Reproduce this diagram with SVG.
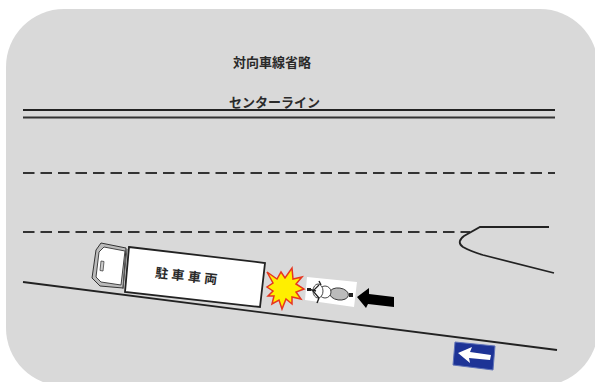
<svg xmlns="http://www.w3.org/2000/svg" width="595" height="382" viewBox="0 0 595 382">
<style>
.l{fill:none;stroke:#222;stroke-width:1.800}
.d{fill:none;stroke:#333;stroke-width:2;stroke-dasharray:11.500 6}
.t{font-family:"Noto Sans CJK JP","Liberation Sans",sans-serif;font-size:13px;font-weight:700;fill:#2a2a2a;text-anchor:middle}
</style>
<rect width="595" height="382" fill="#fff"/>
<rect x="6" y="9" width="592" height="377" rx="58" ry="58" fill="#d9d9d9"/>
<g id="labels">
<text class="t" x="272" y="67">対向車線省略</text>
<text class="t" x="274.500" y="107">センターライン</text>
</g>
<g id="road">
<path class="l" d="M23 110H555"/>
<path class="l" d="M23 117.500H555" style="stroke:#333"/>
<path class="d" d="M23 173H555"/>
<path class="d" d="M23 232H470"/>
<path class="l" d="M549 227H480L464 236Q456 242 463 247Q470 251 483 255L554 273"/>
<path class="l" d="M23 282L557 350"/>
</g>
<g id="truck">
<path d="M129 247L265 263L260 307L125 292Z" fill="#fff" stroke="#222" stroke-width="1.800"/>
<text class="t" x="188" y="281" transform="rotate(6.600 188 276)" style="font-size:13px;letter-spacing:3.500px">駐車車両</text>
<path d="M101 243L126 248L123 288L100 286L92 278L96 250Z" fill="#bbb" stroke="#333" stroke-width="1"/>
<path d="M104 247L125 251L121 285L101 282L96 277L99 252Z" fill="#fff" stroke="#444" stroke-width="1"/>
<path d="M101 261L104 261.500L103 271L100 270.500Z" fill="#ccc" stroke="#444" stroke-width=".8"/>
<path d="M127 249L123 289" fill="none" stroke="#555" stroke-width="1"/>
</g>
<g id="crash">
<path d="M267 272L277 279L281 272L285 278L292 268L293 279L302 277L296 284L304 289L296 292L301 299L292 297L292 304L286 299L282 309L279 300L272 304L274 296L268 296L273 291L267 287L273 283Z" fill="#ffef00" stroke="#e8351f" stroke-width="1.500"/>
</g>
<g id="motorcycle">
<path d="M307 277L357 282L354 307L305 300Z" fill="#fff"/>
<ellipse cx="339" cy="294" rx="9.500" ry="6" fill="#bbb" stroke="#333" stroke-width=".9" transform="rotate(8 339 294)"/>
<circle cx="325" cy="292" r="6" fill="#fff" stroke="#333" stroke-width=".9"/>
<ellipse cx="318" cy="291" rx="5" ry="7" fill="#fff" stroke="#333" stroke-width=".9"/>
<path d="M319 281L321 285M317 303L319 298M308 289L316 291" fill="none" stroke="#222" stroke-width="1.400"/>
<path d="M319 285L313 291L319 298" fill="none" stroke="#222" stroke-width="1.200"/>
<rect x="307" y="288" width="4" height="3" fill="#222"/>
<rect x="349" y="293" width="4" height="4" fill="#222"/>
</g>
<g id="arrow">
<path d="M357 297L369 288V294L394 297V307L368 304L366 308Z" fill="#000"/>
</g>
<g id="sign">
<path d="M455 342L495 346L493 370L453 365Z" fill="#1d3396" stroke="#5f72b8" stroke-width="1"/>
<path d="M458 353L472 347L470 352L491 355L490 360L469 358L470 363Z" fill="#fff"/>
</g>
</svg>
